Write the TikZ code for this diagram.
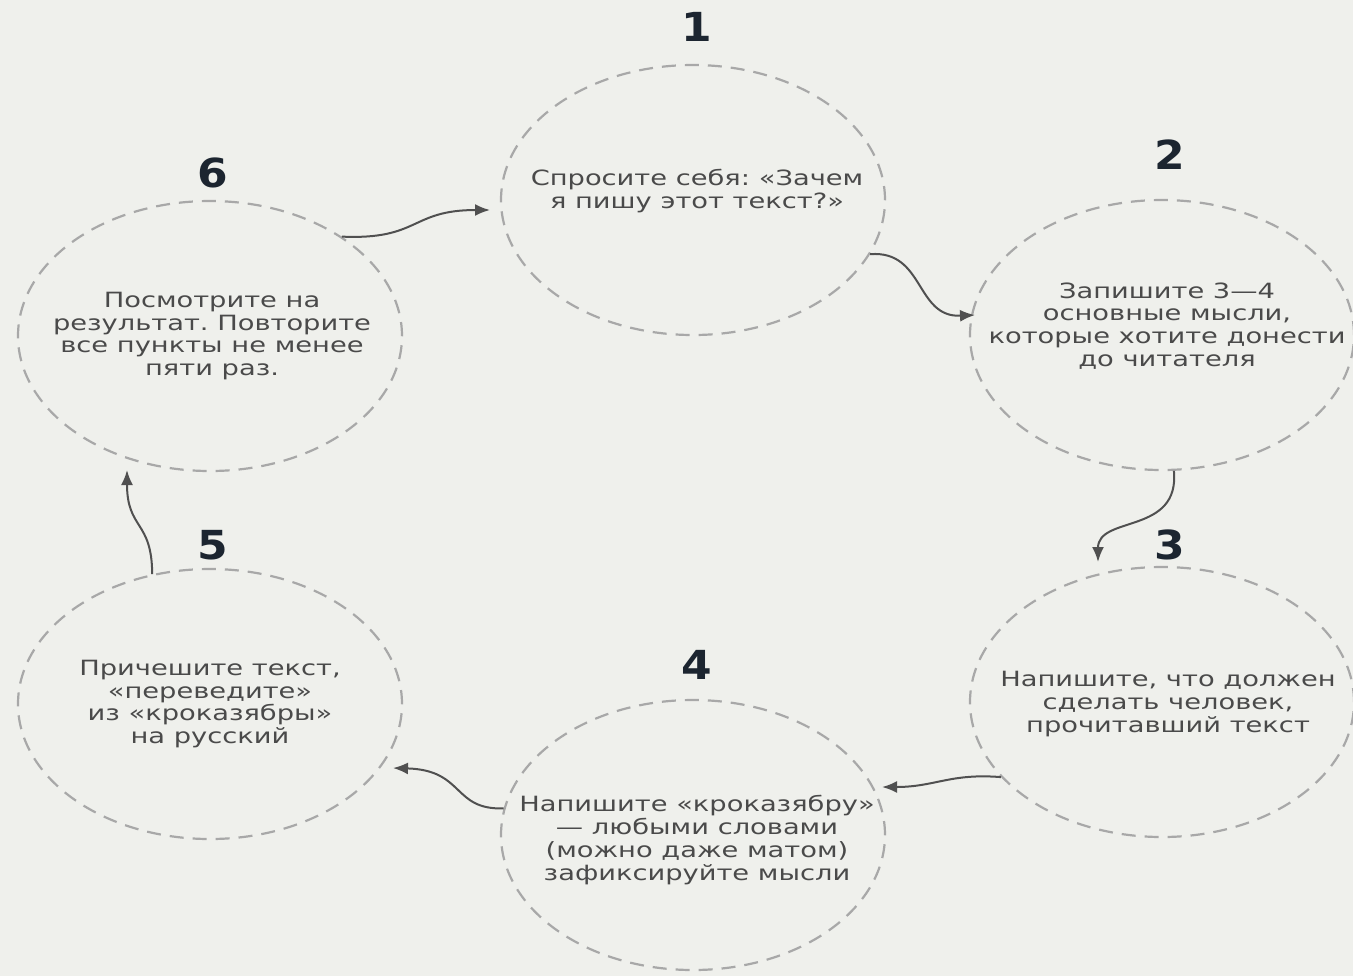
\documentclass[tikz,border=0pt]{standalone}
\usepackage{fontspec}
\setmainfont{DejaVu Sans}
\newfontfamily\stagefont[FakeStretch=1.3]{DejaVu Sans}
\newfontfamily\numfont[FakeStretch=1.1]{DejaVu Sans}
\usetikzlibrary{shapes.geometric,arrows.meta}
\definecolor{bggray}{HTML}{EFF0EC}
\definecolor{ringgray}{HTML}{A8A8A8}
\definecolor{txtgray}{HTML}{4A4A4A}
\definecolor{numblue}{HTML}{1C2530}
\definecolor{arrgray}{HTML}{505050}
\frenchspacing
\begin{document}
\begin{tikzpicture}
    [x=0.5pt,y=-0.5pt,
     stage/.style={ellipse, draw=ringgray, dash pattern=on 7pt off 4.5pt, line width=1.1pt,
                   minimum width=192pt, minimum height=135pt, inner sep=0pt},
     stagetext/.style={font=\stagefont\fontsize{10.5}{11.4}\selectfont, text=txtgray, align=center},
     num/.style={font=\numfont\bfseries\fontsize{20}{20}\selectfont, text=numblue},
     flow/.style={draw=arrgray, line width=1pt, -{Latex[length=7.5pt,width=6pt]}}]

    \fill [bggray] (0,0) rectangle (1353,976);
    \useasboundingbox (0,0) rectangle (1353,976);

    % Stages
    \node [stage] (s1) at (693,200) {};
    \node [stage] (s2) at (1162,335) {};
    \node [stage] (s3) at (1162,702) {};
    \node [stage] (s4) at (693,835) {};
    \node [stage] (s5) at (210,704) {};
    \node [stage] (s6) at (210,336) {};

    % Texts
    \node [stagetext] (t1) at (697,191) {Спросите себя: «Зачем\\я пишу этот текст?»};
    \node [stagetext] (t2) at (1167,326) {Запишите 3—4\\основные мысли,\\которые хотите донести\\до читателя};
    \node [stagetext] (t3) at (1168,704) {Напишите, что должен\\сделать человек,\\прочитавший текст};
    \node [stagetext] (t4) at (697,840) {Напишите «кроказябру»\\— любыми словами\\(можно даже матом)\\зафиксируйте мысли};
    \node [stagetext] (t5) at (210,704) {Причешите текст,\\«переведите»\\из «кроказябры»\\на русский};
    \node [stagetext] (t6) at (212,336) {Посмотрите на\\результат. Повторите\\все пункты не менее\\пяти раз.};

    % Numbers
    \node [num] (n1) at (697,27) {1};
    \node [num] (n2) at (1170,155) {2};
    \node [num] (n3) at (1170,545) {3};
    \node [num] (n4) at (697,665) {4};
    \node [num] (n5) at (213,545) {5};
    \node [num] (n6) at (213,173) {6};

    % Arrows
    \coordinate (a1) at (490,210); \coordinate (a2) at (975,315); \coordinate (a3) at (1098,562);
    \coordinate (a4) at (882,787); \coordinate (a5) at (393,768); \coordinate (a6) at (127,470);
    \draw [flow] (s6.37) .. controls (420,240) and (410,210) .. (a1);
    \draw [flow] (s1.-17) .. controls (925,250) and (915,318) .. (a2);
    \draw [flow] (s2.-85) .. controls (1180,535) and (1098,515) .. (a3);
    \draw [flow] (s3.-155) .. controls (950,773) and (935,787) .. (a4);
    \draw [flow] (s4.172) .. controls (452,810) and (465,770) .. (a5);
    \draw [flow] (s5.114) .. controls (152,520) and (127,530) .. (a6);
\end{tikzpicture}
\end{document}
